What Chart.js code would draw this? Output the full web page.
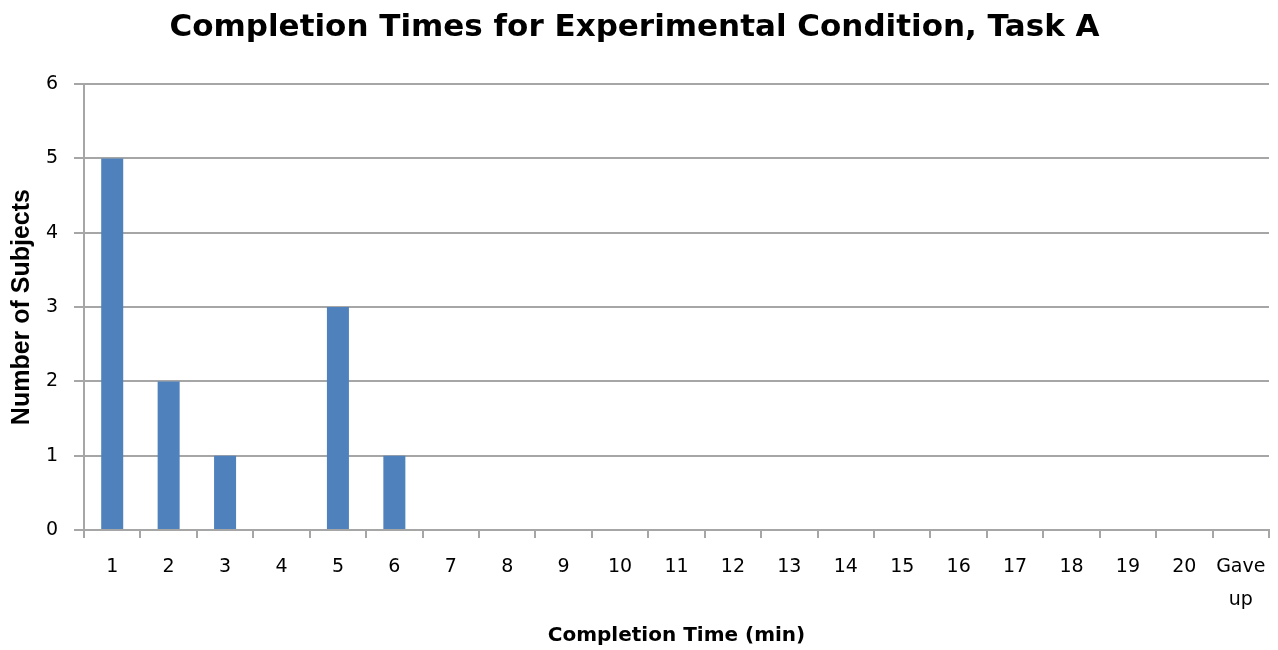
<!DOCTYPE html>
<html>
<head>
<meta charset="utf-8">
<script src="https://cdn.jsdelivr.net/npm/chart.js@4"></script>
<style>
  html, body { margin: 0; padding: 0; background: #fff; }
  #wrap { width: 1278px; height: 650px; }
</style>
</head>
<body>
<div id="wrap"><canvas id="chartTempos"></canvas></div>
<script>
// dados
const categorias = ['1', '2', '3', '4', '5', '6', '7', '8', '9', '10', '11', '12', '13', '14', '15', '16', '17', '18', '19', '20', ['Gave', 'up']];
const sujeitos = [5, 2, 1, 0, 3, 1, 0, 0, 0, 0, 0, 0, 0, 0, 0, 0, 0, 0, 0, 0, 0];
const ticksY = [0, 1, 2, 3, 4, 5, 6];

const fonte = '"DejaVu Sans", Verdana, sans-serif';
const cinza = '#a6a6a6';

new Chart(document.getElementById('chartTempos'), {
    type: 'bar',
    data: {
        labels: categorias,
        datasets: [{
            data: sujeitos,
            backgroundColor: '#4f81bd',
            categoryPercentage: 1,
            barPercentage: 0.39
        }]
    },
    options: {
        responsive: true,
        maintainAspectRatio: false,
        animation: false,
        layout: { padding: { left: 0, right: 9, top: 0, bottom: 0 } },
        plugins: {
            legend: { display: false },
            tooltip: { enabled: false },
            title: {
                display: true,
                text: 'Completion Times for Experimental Condition, Task A',
                color: '#000',
                font: { family: fonte, size: 31, weight: 'bold' },
                padding: { top: 9, bottom: 38 }
            }
        },
        scales: {
            x: {
                grid: {
                    drawOnChartArea: false,
                    color: cinza,
                    lineWidth: 2,
                    tickLength: 8
                },
                border: { color: cinza, width: 2 },
                ticks: {
                    color: '#000',
                    font: { family: fonte, size: 19, lineHeight: 1.75 },
                    padding: 12,
                    maxRotation: 0,
                    autoSkip: false
                },
                title: {
                    display: true,
                    text: 'Completion Time (min)',
                    color: '#000',
                    font: { family: fonte, size: 20, weight: 'bold' },
                    padding: { top: 0, bottom: 2 }
                },
                afterFit(scale) { scale.height = 120; }
            },
            y: {
                min: 0,
                max: 6,
                afterBuildTicks(scale) { scale.ticks = ticksY.map(v => ({ value: v })); },
                grid: {
                    color: cinza,
                    lineWidth: 2,
                    tickLength: 10
                },
                border: { color: cinza, width: 2 },
                ticks: {
                    color: '#000',
                    font: { family: fonte, size: 19 },
                    padding: 16
                },
                title: {
                    display: true,
                    text: 'Number of Subjects',
                    color: '#000',
                    font: { family: '"Liberation Sans", Arial, sans-serif', size: 25, weight: 'bold' },
                    padding: { top: 7, bottom: 0 }
                },
                afterFit(scale) { scale.width = 84; }
            }
        }
    }
});
</script>
</body>
</html>
